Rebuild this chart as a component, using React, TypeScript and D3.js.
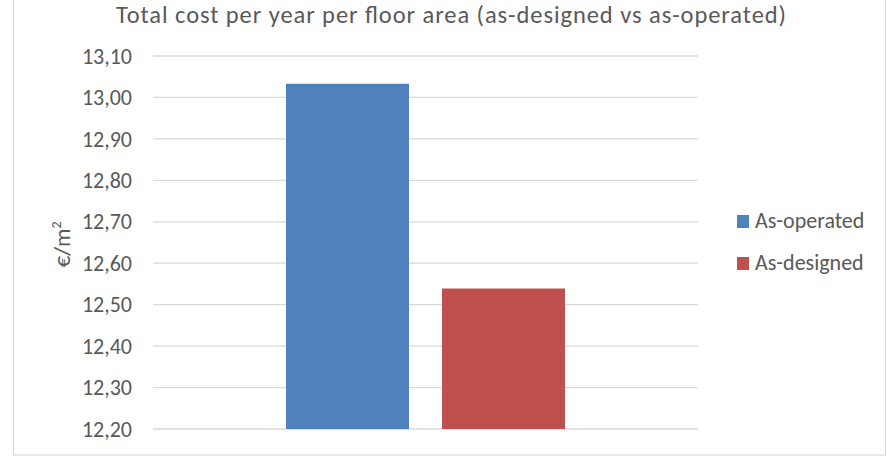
import React from "react";
import * as d3 from "d3";

const categories = ["Total"];
const seriesNames = ["As-operated", "As-designed"];
const seriesValues = [13.033, 12.539];
const seriesColors = ["#4F81BD", "#C0504D"];
const yTicks = [12.2, 12.3, 12.4, 12.5, 12.6, 12.7, 12.8, 12.9, 13.0, 13.1];
const title = "Total cost per year per floor area (as-designed vs as-operated)";

const W = 887;
const H = 457;
const FONT = "Carlito, Calibri, Lato, 'Open Sans', sans-serif";

export default function App() {
  const left = 153, right = 698, top = 56, bottom = 429;
  const y = d3.scaleLinear().domain([12.2, 13.1]).range([bottom, top]);
  const x0 = d3.scaleBand().domain(categories).range([left, right]).paddingInner(0).paddingOuter(0.4767);
  const x1 = d3.scaleBand().domain(seriesNames).range([0, x0.bandwidth()]).paddingInner(0.2115).paddingOuter(0);
  const fmt = (v: number) => v.toFixed(2).replace(".", ",");
  return (
    <svg width={W} height={H} style={{ position: "fixed", left: 0, top: 0, background: "#fff" }} fontFamily={FONT}>
      <rect x={13.5} y={-10} width={872} height={465} fill="#fff" stroke="#D9D9D9" strokeWidth={1.2} />
      <text x={451} y={23} textAnchor="middle" fontSize={24.5} fill="#595959" textLength={670} lengthAdjust="spacing">{title}</text>
      {yTicks.map((t) => (
        <g key={t}>
          <line x1={left} x2={right} y1={y(t)} y2={y(t)} stroke="#D9D9D9" strokeWidth={1.3} />
          <text x={132} y={y(t)} dy="0.35em" textAnchor="end" fontSize={22} fill="#595959">{fmt(t)}</text>
        </g>
      ))}
      <text transform={`translate(70,${(top + bottom) / 2 + 2}) rotate(-90)`} textAnchor="middle" fontSize={23} fill="#595959">
        €/m<tspan fontSize={14} dy={-9}>2</tspan>
      </text>
      {categories.map((c) => (
        <g key={c} transform={`translate(${x0(c)},0)`}>
          {seriesNames.map((s, i) => (
            <rect key={s} x={x1(s)} width={x1.bandwidth()} y={y(seriesValues[i])} height={bottom - y(seriesValues[i])} fill={seriesColors[i]} />
          ))}
        </g>
      ))}
      {seriesNames.map((s, i) => (
        <g key={s} transform={`translate(737,${215 + i * 42})`}>
          <rect x={0} y={0} width={12} height={13} fill={seriesColors[i]} />
          <text x={18} y={13} fontSize={22} fill="#595959">{s}</text>
        </g>
      ))}
    </svg>
  );
}
